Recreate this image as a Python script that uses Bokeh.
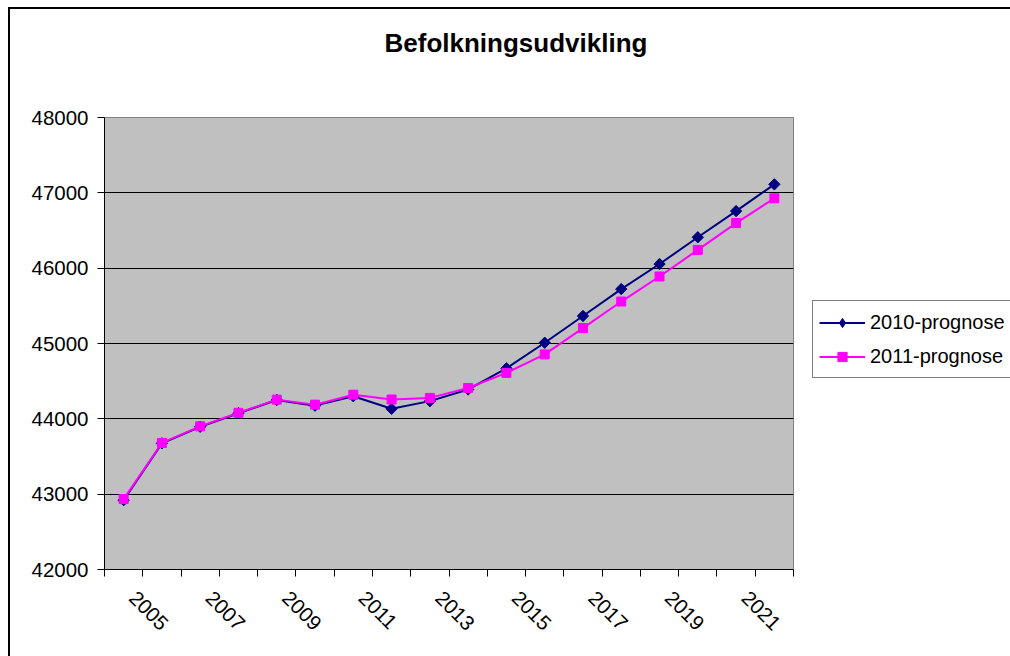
import math
from bokeh.plotting import figure
from bokeh.models import FixedTicker, Legend, LegendItem, Range1d, Title
from bokeh.embed import file_html
from bokeh.resources import INLINE

# ---- data ----
years = [str(y) for y in range(2005, 2023)]
prog2010 = [42920, 43675, 43895, 44075, 44250, 44175, 44300, 44133, 44235, 44390,
            44670, 45010, 45365, 45722, 46055, 46410, 46758, 47113]
prog2011 = [42935, 43680, 43900, 44080, 44255, 44188, 44320, 44257, 44278, 44410,
            44610, 44855, 45205, 45557, 45889, 46242, 46598, 46928]
y_ticks = [42000, 43000, 44000, 45000, 46000, 47000, 48000]
label_every = 2
series_names = ["2010-prognose", "2011-prognose"]
chart_title = "Befolkningsudvikling"

FONT = "Liberation Sans"

x = [i + 0.5 for i in range(len(years))]

p = figure(frame_width=689, frame_height=452,
           min_border_left=104, min_border_right=217,
           min_border_top=117, min_border_bottom=87,
           x_range=Range1d(0, len(years)), y_range=Range1d(y_ticks[0], y_ticks[-1]),
           output_backend="svg", toolbar_location=None)

p.background_fill_color = "#C0C0C0"
p.border_fill_color = None
p.outline_line_color = "#808080"
p.outline_line_width = 1
# outer chart border (left and top edges visible in the crop)
p.styles = {
    "background": ("linear-gradient(#000,#000) 8px 7px / 2px 100% no-repeat, "
                   "linear-gradient(#000,#000) 8px 7px / 100% 2px no-repeat, white"),
}

# title: a small spacer panel next to the frame, then the title itself
p.title.visible = False
spacer = Title(text=" ", text_font_size="1px", text_line_height=1.0, standoff=52)
p.add_layout(spacer, "above")
main_title = Title(text=chart_title, text_font=FONT, text_font_style="bold",
                   text_font_size="26px", text_line_height=1.0, text_color="black",
                   align="left", offset=280, standoff=10)
p.add_layout(main_title, "above")

# grid
p.xgrid.visible = False
p.ygrid.ticker = FixedTicker(ticks=y_ticks[1:-1])
p.ygrid.grid_line_color = "black"
p.ygrid.grid_line_width = 1

# y axis
ya = p.yaxis[0]
ya.ticker = FixedTicker(ticks=y_ticks)
ya.axis_line_color = "black"
ya.major_tick_line_color = "black"
ya.major_tick_out = 7
ya.major_tick_in = 0
ya.minor_tick_line_color = None
ya.major_label_standoff = 9
ya.major_label_text_font = FONT
ya.major_label_text_font_size = "20.5px"
ya.major_label_text_color = "black"

# x axis: tick marks between categories, labels on every other category
xa = p.xaxis[0]
label_shift = 0.235
label_pos = {x[i] + label_shift: years[i] for i in range(0, len(years), label_every)}
xa.ticker = FixedTicker(ticks=list(label_pos.keys()),
                        minor_ticks=list(range(0, len(years) + 1)))
xa.major_label_overrides = label_pos
xa.axis_line_color = "black"
xa.major_tick_line_color = None
xa.major_tick_out = 0
xa.major_tick_in = 0
xa.minor_tick_line_color = "black"
xa.minor_tick_out = 7
xa.minor_tick_in = 0
xa.major_label_orientation = -math.pi / 4
xa.major_label_standoff = 18
xa.major_label_text_font = FONT
xa.major_label_text_font_size = "20.5px"
xa.major_label_text_color = "black"

# series
l1 = p.line(x, prog2010, line_color="#000080", line_width=2)
# diamond glyph (hidden under the rotated squares) used as the legend symbol
d1 = p.scatter(x, prog2010, marker="diamond", size=10,
               fill_color="#000080", line_color="#000080")
m1 = p.scatter(x, prog2010, marker="square", angle=math.pi / 4, size=8,
               fill_color="#000080", line_color="#000080")
l2 = p.line(x, prog2011, line_color="#FF00FF", line_width=2)
m2 = p.scatter(x, prog2011, marker="square", size=9,
               fill_color="#FF00FF", line_color="#FF00FF")

legend = Legend(items=[LegendItem(label=series_names[0], renderers=[l1, d1]),
                       LegendItem(label=series_names[1], renderers=[l2, m2])],
                location=(19, 191))
legend.border_line_color = "black"
legend.border_line_width = 1
legend.background_fill_color = "white"
legend.background_fill_alpha = 1
legend.label_text_font = FONT
legend.label_text_font_size = "20px"
legend.label_text_color = "black"
legend.glyph_width = 46
legend.glyph_height = 23
legend.label_height = 30
legend.label_standoff = 5
legend.spacing = 4
legend.padding = 6
legend.margin = 0
p.add_layout(legend, "right")

open("out.html", "w").write(file_html(p, INLINE))
